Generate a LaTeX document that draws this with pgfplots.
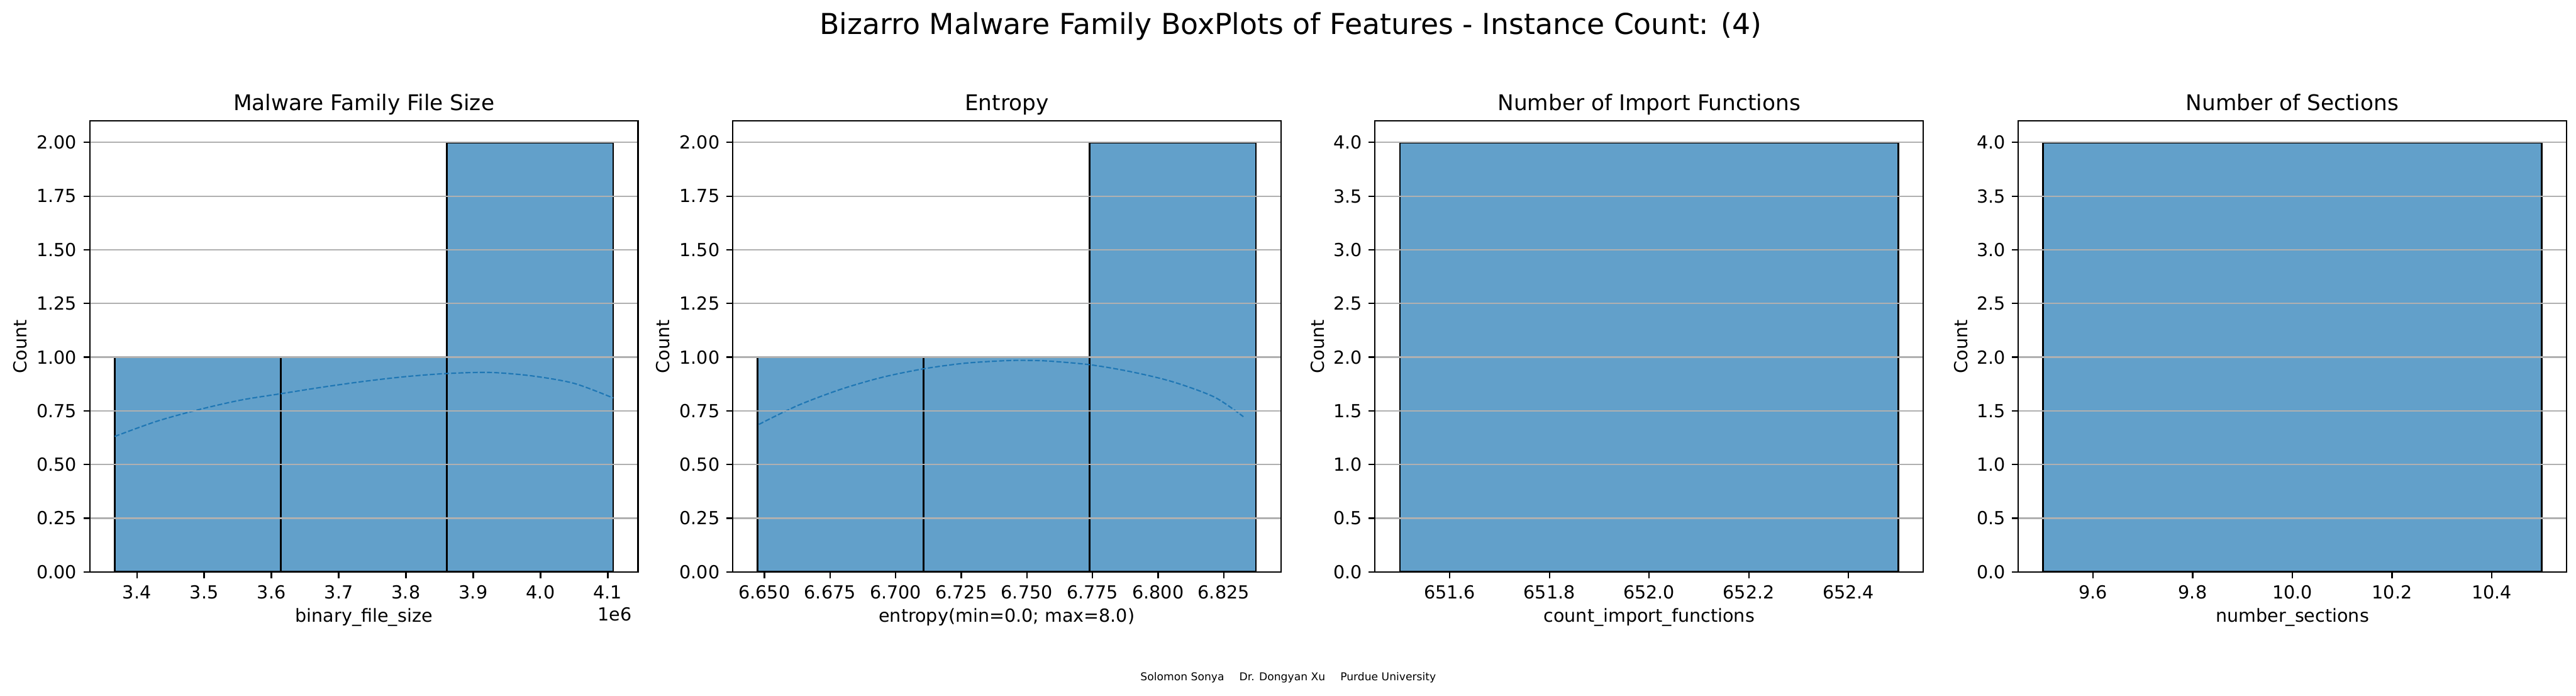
\documentclass[border=0pt]{standalone}
\usepackage{fontspec}
\setmainfont{DejaVu Sans}
\usepackage{pgfplots}
\pgfplotsset{compat=1.18}
\definecolor{barblue}{HTML}{62A0CA}
\definecolor{kdeblue}{HTML}{1F77B4}
\definecolor{gridgray}{HTML}{B0B0B0}
\pgfplotsset{
  panel/.style={
    scale only axis, width=304.8pt, height=250.56pt,
    axis on top,
    tick pos=left, tick align=outside, major tick length=3.5pt,
    tick style={line width=0.8pt, black},
    axis line style={line width=0.8pt},
    ymajorgrids, major grid style={gridgray, line width=0.8pt},
    ymin=0,
    scaled ticks=false,
    /pgf/number format/assume math mode=true,
    ticklabel style={font=\fontsize{10}{12}\selectfont, inner sep=0pt},
    xticklabel style={anchor=north, yshift=-3.94pt},
    yticklabel style={anchor=east, xshift=-3.5pt},
    label style={font=\fontsize{10}{12}\selectfont},
    xlabel style={at={(axis description cs:0.5,-0.111)}, anchor=base},
    title style={font=\fontsize{12}{14}\selectfont, at={(axis description cs:0.5,1)}, anchor=base},
  },
  bars/.style={ybar interval, fill=barblue, draw=black, line width=1pt},
  kde/.style={kdeblue, line width=0.75pt, dash pattern=on 2.78pt off 1.2pt, smooth},
}
\begin{document}
\begin{tikzpicture}
% Panel 1
\begin{axis}[panel, at={(0pt,0pt)},
  title={Malware Family File Size},
  xlabel={binary\_file\_size}, ylabel={Count},
  ylabel style={at={(axis description cs:-0.1266,0.5)}, anchor=center},
  xmin=3.330, xmax=4.145, ymax=2.1,
  xtick={3.4,3.5,3.6,3.7,3.8,3.9,4.0,4.1},
  ytick={0,0.25,0.5,0.75,1,1.25,1.5,1.75,2},
  xticklabel style={/pgf/number format/.cd, fixed, fixed zerofill, precision=1},
  yticklabel style={/pgf/number format/.cd, fixed, fixed zerofill, precision=2},
]
\addplot[bars] coordinates {(3.367,1) (3.614,1) (3.861,2) (4.108,2)};
\addplot[kde] coordinates {
(3.367,0.631) (3.429,0.701) (3.491,0.755) (3.554,0.800) (3.614,0.830)
(3.677,0.861) (3.739,0.888) (3.801,0.910) (3.861,0.924) (3.925,0.929)
(3.987,0.913) (4.050,0.878) (4.108,0.810)};
\end{axis}
\node[anchor=base east, font=\fontsize{10}{12}\selectfont] at (304.8pt,-27.1pt) {1e6};
% Panel 2
\begin{axis}[panel, at={(357.36pt,0pt)},
  title={Entropy},
  xlabel={entropy(min=0.0; max=8.0)}, ylabel={Count},
  ylabel style={at={(axis description cs:-0.1266,0.5)}, anchor=center},
  xmin=6.6379, xmax=6.8468, ymax=2.1,
  xtick={6.650,6.675,6.700,6.725,6.750,6.775,6.800,6.825},
  ytick={0,0.25,0.5,0.75,1,1.25,1.5,1.75,2},
  xticklabel style={/pgf/number format/.cd, fixed, fixed zerofill, precision=3},
  yticklabel style={/pgf/number format/.cd, fixed, fixed zerofill, precision=2},
]
\addplot[bars] coordinates {(6.6474,1) (6.7107,1) (6.7740,2) (6.8373,2)};
\addplot[kde] coordinates {
(6.6479,0.687) (6.6627,0.775) (6.6790,0.850) (6.6948,0.906) (6.7107,0.946)
(6.7265,0.972) (6.7423,0.984) (6.7503,0.985) (6.7582,0.982) (6.7740,0.965)
(6.7898,0.932) (6.8057,0.885) (6.8215,0.814) (6.8325,0.723)};
\end{axis}
% Panel 3
\begin{axis}[panel, at={(714.48pt,0pt)},
  title={Number of Import Functions},
  xlabel={count\_import\_functions}, ylabel={Count},
  ylabel style={at={(axis description cs:-0.105,0.5)}, anchor=center},
  xmin=651.45, xmax=652.55, ymax=4.2,
  xtick={651.6,651.8,652.0,652.2,652.4},
  ytick={0,0.5,1,1.5,2,2.5,3,3.5,4},
  xticklabel style={/pgf/number format/.cd, fixed, fixed zerofill, precision=1},
  yticklabel style={/pgf/number format/.cd, fixed, fixed zerofill, precision=1},
]
\addplot[bars] coordinates {(651.5,4) (652.5,4)};
\end{axis}
% Panel 4
\begin{axis}[panel, at={(1072.08pt,0pt)},
  title={Number of Sections},
  xlabel={number\_sections}, ylabel={Count},
  ylabel style={at={(axis description cs:-0.105,0.5)}, anchor=center},
  xmin=9.45, xmax=10.55, ymax=4.2,
  xtick={9.6,9.8,10.0,10.2,10.4},
  ytick={0,0.5,1,1.5,2,2.5,3,3.5,4},
  xticklabel style={/pgf/number format/.cd, fixed, fixed zerofill, precision=1},
  yticklabel style={/pgf/number format/.cd, fixed, fixed zerofill, precision=1},
]
\addplot[bars] coordinates {(9.5,4) (10.5,4)};
\end{axis}
\node[anchor=base, font=\fontsize{16}{19}\selectfont] at (667.68pt,298.56pt) {Bizarro Malware Family BoxPlots of Features - Instance Count: (4)};
\node[anchor=base, font=\fontsize{6}{7}\selectfont] at (666.24pt,-60.48pt) {Solomon Sonya\hspace{8.4pt}Dr. Dongyan Xu\hspace{8.4pt}Purdue University};
\pgfresetboundingbox
\path (-49.92pt,-68.64pt) rectangle (1382.16pt,317.76pt);
\end{tikzpicture}
\end{document}
